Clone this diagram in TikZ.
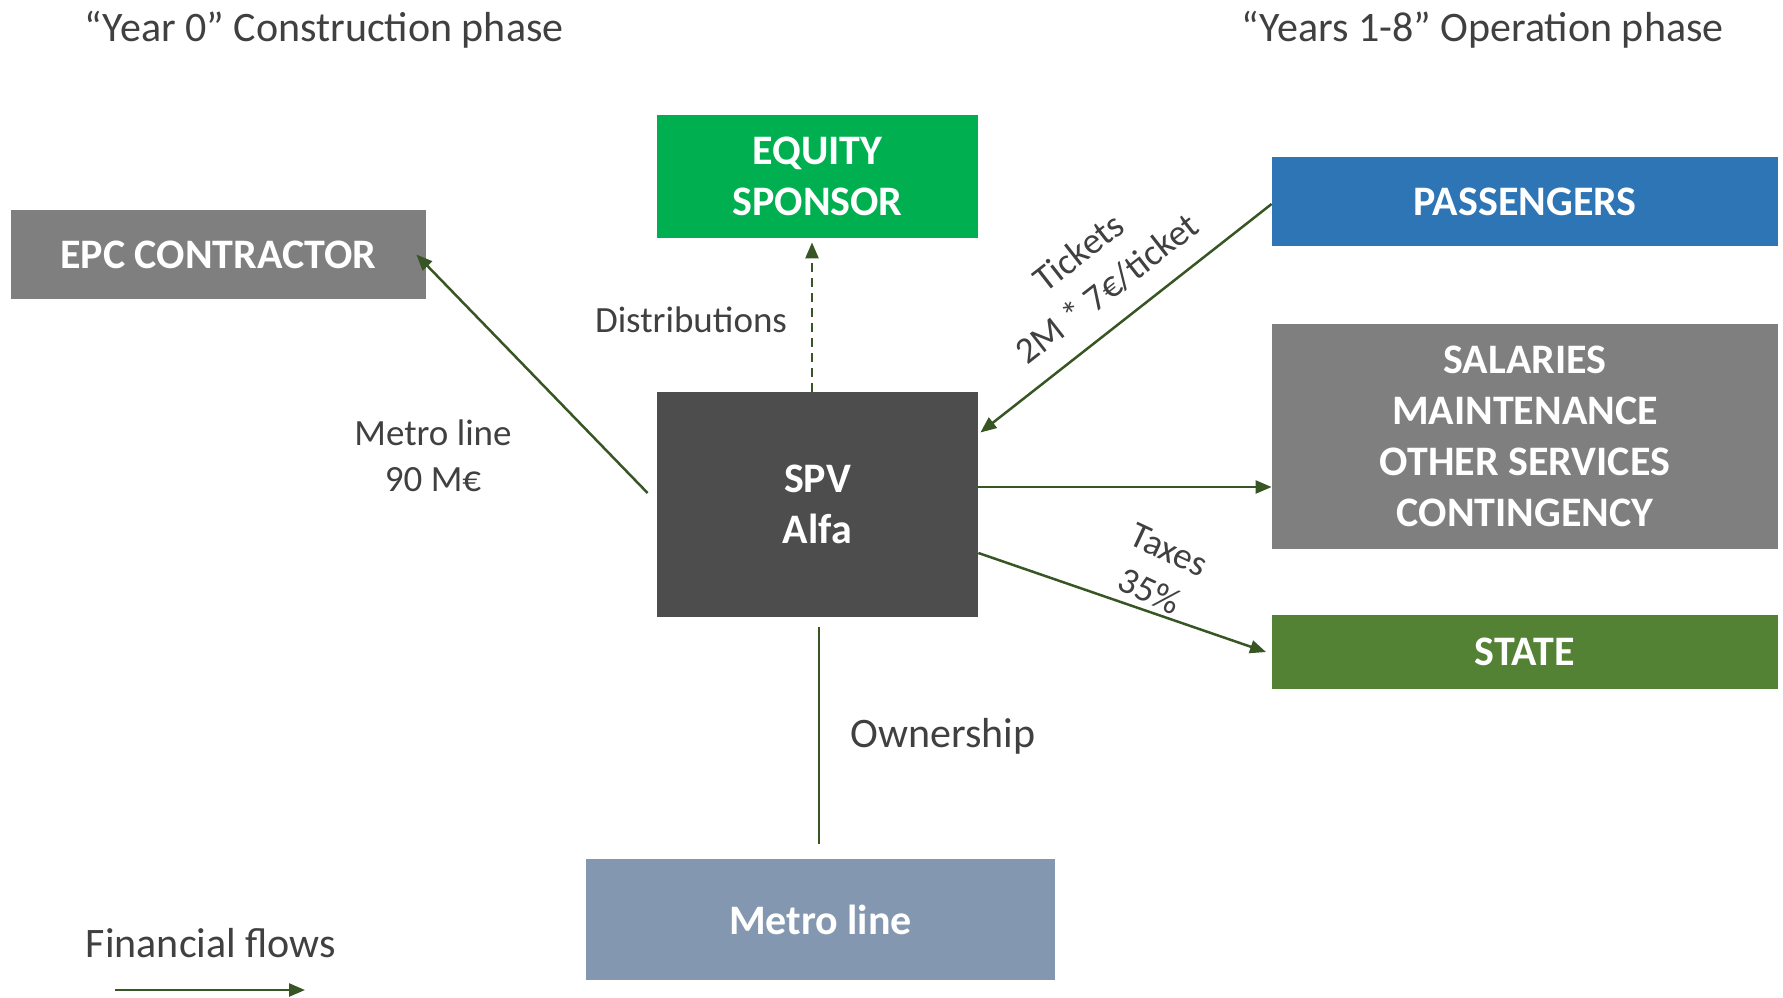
\documentclass[tikz,border=0pt]{standalone}
\usepackage{fontspec}
\setmainfont{Carlito}
\usetikzlibrary{arrows.meta,calc}

\definecolor{flowgreen}{HTML}{375623}
\definecolor{textgray}{HTML}{404040}
\definecolor{eqgreen}{HTML}{00B050}
\definecolor{boxgray}{HTML}{7F7F7F}
\definecolor{paxblue}{HTML}{2E75B6}
\definecolor{stategreen}{HTML}{548235}
\definecolor{spvgray}{HTML}{4D4D4D}
\definecolor{metroblue}{HTML}{8497B0}

\begin{document}
\begin{tikzpicture}[x=0.5pt,y=-0.5pt,
  box/.style={rectangle, draw=none, text=white, align=center, inner sep=0pt,
    font=\bfseries\fontsize{21}{25.6}\selectfont},
  flow/.style={draw=flowgreen, line width=1.25pt,
    -{Triangle[length=8pt,width=6.5pt]}},
  plainline/.style={draw=flowgreen, line width=1.4pt},
  lbl/.style={text=textgray, align=center, inner sep=0pt,
    font=\fontsize{18.5}{23}\selectfont},
  biglbl/.style={text=textgray, inner sep=0pt,
    font=\fontsize{21}{25.6}\selectfont}]

\useasboundingbox (0,0) rectangle (1783,997);

% phase titles
\node[biglbl, anchor=base] (t0) at (324,41) {“Year 0” Construction phase};
\node[biglbl, anchor=base] (t1) at (1482.5,41) {“Years 1-8” Operation phase};

% parties
\node[box, fill=eqgreen, minimum width=160.5pt, minimum height=61.5pt] (eq) at (817.5,176.5) {EQUITY\\SPONSOR};
\node[box, fill=boxgray, minimum width=207.5pt, minimum height=44.5pt] (epc) at (218.5,254.5) {EPC CONTRACTOR};
\node[box, fill=paxblue, minimum width=253pt, minimum height=44.5pt] (pax) at (1525,201.5) {PASSENGERS};
\node[box, fill=boxgray, minimum width=253pt, minimum height=112.5pt] (sal) at (1525,436.5) {SALARIES\\MAINTENANCE\\OTHER SERVICES\\CONTINGENCY};
\node[box, fill=stategreen, minimum width=253pt, minimum height=37pt] (state) at (1525,652) {STATE};
\node[box, fill=spvgray, minimum width=160.5pt, minimum height=112.5pt] (spv) at (817.5,504.5) {SPV\\Alfa};
\node[box, fill=metroblue, minimum width=234.5pt, minimum height=60.5pt] (metro) at (820.5,919.5) {Metro line};

% flows
\draw[flow] ([xshift=-4.5pt,yshift=5.75pt]spv.west) -- ([xshift=-5pt]epc.east);
\draw[flow, dash pattern=on 4.5pt off 3pt] ([xshift=-2.75pt]spv.north) -- ([xshift=-2.75pt,yshift=-2pt]eq.south);
\draw[flow] ([yshift=-1.25pt]pax.west) -- ([xshift=1pt,yshift=36pt]spv.east);
\coordinate (opex) at ([yshift=8.75pt]spv.east);
\draw[flow] (opex) -- (opex -| sal.west);
\draw[flow] ([yshift=-24.25pt]spv.east) -- ([xshift=-2.8pt]state.west);
\draw[plainline] ([xshift=0.75pt,yshift=-5pt]spv.south) -- ([xshift=-0.75pt,yshift=7.5pt]metro.north);

% flow labels
\node[lbl, anchor=base] (ldist) at (691,332) {Distributions};
\node[lbl] (lepc) at (433,456) {Metro line\\90 M€};
\node[lbl, rotate=38] (ltick) at (1093,270.5) {Tickets\\2M * 7€/ticket};
\node[lbl, rotate=-25] (ltax) at (1159,571) {Taxes\\35\%};
\node[biglbl, anchor=base] (lown) at (943,747) {Ownership};

% legend
\node[biglbl, anchor=base] (leg) at (211,957) {Financial flows};
\coordinate (legA) at (115,990);
\coordinate (legB) at (305,990);
\draw[flow] (legA) -- (legB);

\end{tikzpicture}
\end{document}
